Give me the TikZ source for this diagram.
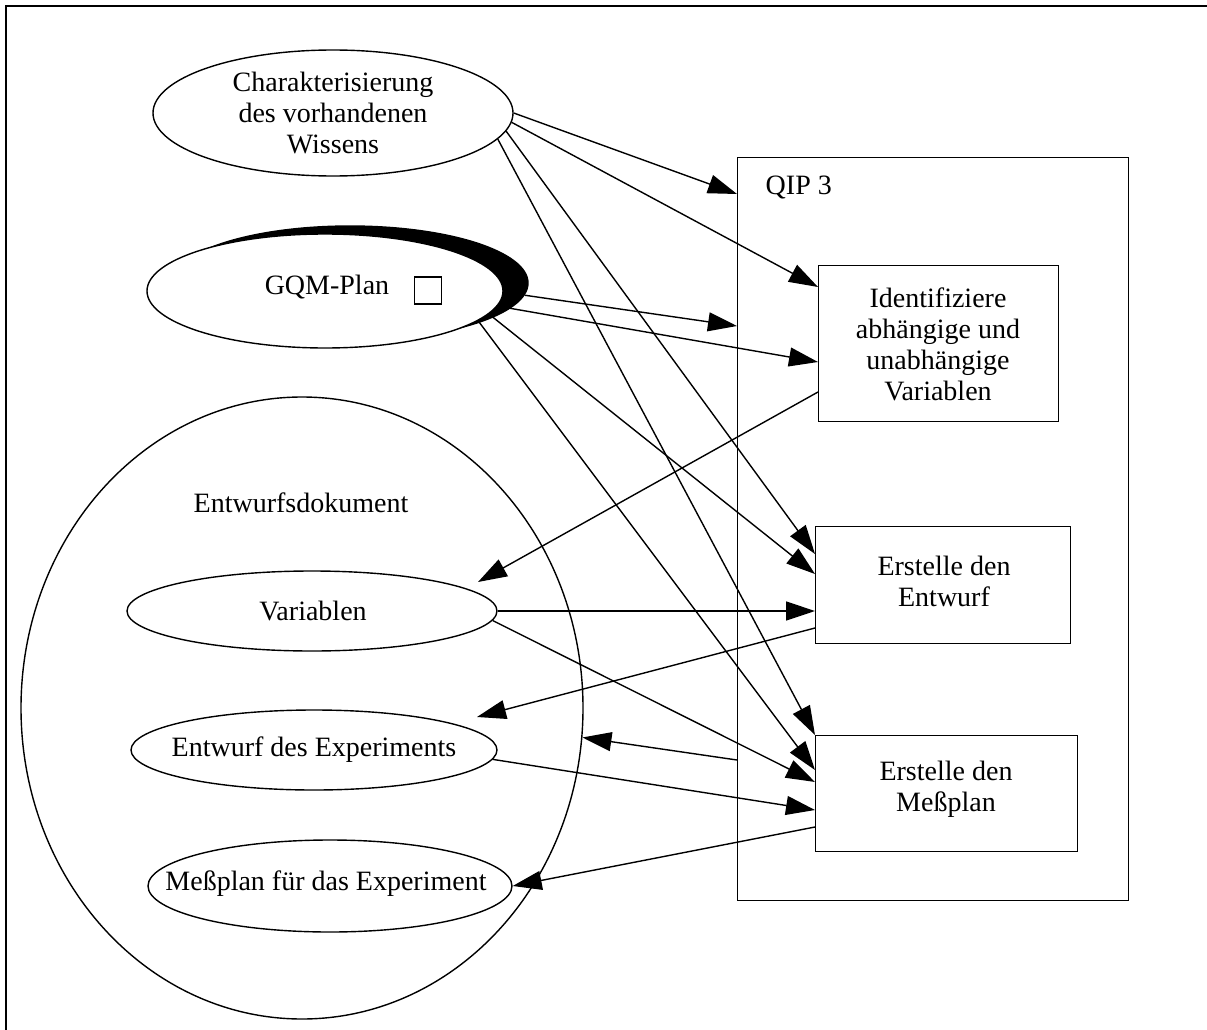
\documentclass[tikz,border=0pt]{standalone}
\usepackage{fontspec}
\setmainfont{Liberation Serif}
\usetikzlibrary{shapes.geometric,arrows.meta,calc}
\begin{document}
\begin{tikzpicture}[x=1pt,y=-1pt,
  line width=1.4pt,
  every node/.style={font=\fontsize{28}{31}\selectfont},
  oval/.style={draw, ellipse, inner sep=0pt, fill=white},
  box/.style={draw, rectangle, inner sep=0pt, anchor=north west},
  lbl/.style={align=center, inner sep=0pt},
  flow/.style={-{Triangle[length=29pt,width=19pt]}}
]
\useasboundingbox (0,0) rectangle (1207,1030);

% page frame
\draw[line width=2pt] (6,1030) -- (6,6) -- (1207,6);

% design document with its parts
\node[oval, minimum width=562pt, minimum height=622pt] (D) at (302,708) {};
\node[lbl] (Dt) at (301,503) {Entwurfsdokument};
\node[oval, minimum width=370pt, minimum height=80pt] (V) at (312,611) {};
\node[lbl] (Vt) at (313,611) {Variablen};
\node[oval, minimum width=366pt, minimum height=80pt] (X) at (314,750) {};
\node[lbl] (Xt) at (314,750) {Entwurf des Experiments};
\node[oval, minimum width=364pt, minimum height=92pt] (P) at (330,886) {};
\node[lbl] (Pt) at (326,884) {Meßplan für das Experiment};

% inputs
\node[oval, minimum width=360pt, minimum height=126pt] (C) at (333,113) {};
\node[lbl] (Ct) at (333,113) {Charakterisierung\\des vorhandenen\\Wissens};
\node[oval, fill=black, minimum width=356pt, minimum height=114pt] (GS) at (350,283) {};
\node[oval, minimum width=356pt, minimum height=114pt] (G) at (325,291) {};
\node[lbl] (Gt) at (327,287) {GQM-Plan};
\node[draw, minimum size=27pt, inner sep=0pt, line width=1.2pt] (sq) at (428,290.5) {};

% QIP 3 and its steps
\node[box, minimum width=391pt, minimum height=743pt] (Q) at (737,157) {};
\node[lbl, anchor=west] (Qt) at (765,187) {QIP 3};
\node[box, minimum width=240pt, minimum height=156pt] (I) at (818,265) {};
\node[lbl] (It) at (938,344) {Identifiziere\\abhängige und\\unabhängige\\Variablen};
\node[box, minimum width=255pt, minimum height=117pt] (E) at (815,526) {};
\node[lbl] (Et) at (944,581) {Erstelle den\\Entwurf};
\node[box, minimum width=262pt, minimum height=116pt] (M) at (815,735) {};
\node[lbl] (Mt) at (946,789) {Erstelle den\\Meßplan};

% connectors
\draw[flow] (C.0) -- ($(Q.north west)+(0,37)$);
\draw[flow] (C.-3.3) -- ($(I.north west)+(0,22)$);
\draw[flow] (C.-6.6) -- ($(E.north west)+(0,28)$);
\draw[flow] (C.-9.2) -- (M.north west);
\draw[flow] (GS.-4) -- ($(Q.north west)+(0,169)$);
\draw[flow] (G.-5.5) -- ($(I.north west)+(0,97)$);
\draw[flow] (G.-8.5) -- ($(E.north west)+(0,48)$);
\draw[flow] (G.-11.8) -- ($(M.north west)+(0,35)$);
\draw[flow] ($(I.north west)+(0,127)$) -- ($(V.center)+(166,-29)$);
\draw[flow] (V.east) -- ($(E.north west)+(0,85)$);
\draw[flow] (V.-3.5) -- ($(M.north west)+(0,47)$);
\draw[flow] ($(E.north west)+(0,102)$) -- ($(X.center)+(163,-33)$);
\draw[flow] (X.-3.75) -- ($(M.north west)+(0,75)$);
\draw[flow] ($(Q.north west)+(0,603)$) -- (D.-6.8);
\draw[flow] ($(M.north west)+(0,92)$) -- (P.0.6);
\end{tikzpicture}
\end{document}
